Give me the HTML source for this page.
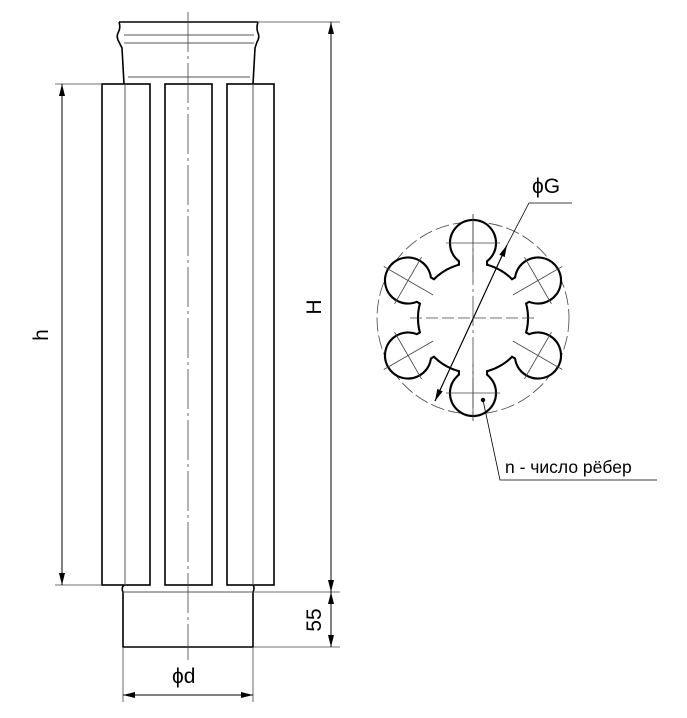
<!DOCTYPE html>
<html><head><meta charset="utf-8"><style>body{margin:0;background:#fff}svg{display:block}text{font-family:"Liberation Sans",sans-serif;fill:#000}</style></head><body>
<svg width="687" height="718" viewBox="0 0 687 718" xmlns="http://www.w3.org/2000/svg">
<defs>
<marker id="a" viewBox="0 0 12 6" refX="12" refY="3" markerWidth="12" markerHeight="6" markerUnits="userSpaceOnUse" orient="auto"><path d="M0,0 L12,3 L0,6z" fill="#000"/></marker>
<g id="lobe"><circle cx="473" cy="243" r="22"/><rect x="460" y="250" width="26" height="30"/></g>
</defs>
<g fill="none" stroke="#000">
<path d="M119,22 L258,22" stroke-width="1.6"/>
<path d="M119,22 Q121,28 118,33 Q116,37 119,42 L122,48 L124,84" stroke-width="1.6"/>
<path d="M258,22 Q256,28 258,33 Q260,37 257,42 L255,48 L253,84" stroke-width="1.6"/>
<path d="M124,35 L254,35 M124,43 L254,43 M128,77 L250,77" stroke-width="1" stroke="#555"/>
<rect x="102" y="84" width="48" height="501" stroke-width="1.6"/>
<rect x="165" y="84" width="47" height="501" stroke-width="1.6"/>
<rect x="227" y="84" width="47" height="501" stroke-width="1.6"/>
<path d="M125,84 V585 M253,84 V585" stroke-width="1" stroke="#555"/>
<path d="M124,585 Q121,588 123,592 L123,647 L253,647 L253,592 Q255,588 253,585" stroke-width="1.6"/>
<path d="M123,592 H253" stroke-width="1" stroke="#555"/>
<path d="M188,12 V660" stroke-width="0.8" stroke="#444" stroke-dasharray="40,4,3,4"/>
<g stroke-width="0.8" stroke="#444">
<path d="M55,84 H102 M55,585 H102"/>
<path d="M258,22 H340 M253,592 H340 M253,647 H340 M123,647 V702 M253,647 V702"/>
</g>
<g stroke-width="1">
<path d="M62,585 V84" marker-end="url(#a)"/><path d="M62,84 V585" marker-end="url(#a)"/>
<path d="M331,592 V22" marker-end="url(#a)"/><path d="M331,22 V592" marker-end="url(#a)"/>
<path d="M331,647 V592" marker-end="url(#a)"/><path d="M331,592 V647" marker-end="url(#a)"/>
<path d="M253,695 H123" marker-end="url(#a)"/><path d="M123,695 H253" marker-end="url(#a)"/>
</g>
<circle cx="473" cy="318" r="96" stroke-width="0.8" stroke="#444" stroke-dasharray="14,4"/>
<g stroke="#000" stroke-width="4.2" fill="#000">
<circle cx="473" cy="318" r="54"/>
<use href="#lobe"/><use href="#lobe" transform="rotate(60 473 318)"/><use href="#lobe" transform="rotate(120 473 318)"/>
<use href="#lobe" transform="rotate(180 473 318)"/><use href="#lobe" transform="rotate(240 473 318)"/><use href="#lobe" transform="rotate(300 473 318)"/>
</g>
<g fill="#fff" stroke="none">
<circle cx="473" cy="318" r="54"/>
<use href="#lobe"/><use href="#lobe" transform="rotate(60 473 318)"/><use href="#lobe" transform="rotate(120 473 318)"/>
<use href="#lobe" transform="rotate(180 473 318)"/><use href="#lobe" transform="rotate(240 473 318)"/><use href="#lobe" transform="rotate(300 473 318)"/>
</g>
<g stroke-width="0.8" stroke="#444">
<path d="M410,318 H537" stroke-dasharray="12,4"/>
<path d="M473,214 V420" stroke-dasharray="30,4,3,4"/>
<g id="c"><path d="M473,215 V272 M446,243 H500"/></g>
<use href="#c" transform="rotate(60 473 318)"/><use href="#c" transform="rotate(120 473 318)"/>
<use href="#c" transform="rotate(180 473 318)"/><use href="#c" transform="rotate(240 473 318)"/>
<use href="#c" transform="rotate(300 473 318)"/>
</g>
<path d="M435,401 L507,245" stroke-width="1" marker-end="url(#a)"/>
<path d="M507,245 L435,401" stroke-width="1" marker-end="url(#a)"/>
<path d="M507,245 L529,203 H572" stroke-width="0.8"/>
<path d="M483,400 L500,480 H657" stroke-width="0.8"/>
</g>
<circle cx="483" cy="400" r="2.2" fill="#000"/>
<text x="532" y="193" font-size="21">ϕG</text>
<text x="505" y="473" font-size="17.5">n - число рёбер</text>
<text x="172" y="683" font-size="21">ϕd</text>
<text transform="translate(48,335) rotate(-90)" font-size="21" text-anchor="middle">h</text>
<text transform="translate(321,307) rotate(-90)" font-size="21" text-anchor="middle">H</text>
<text transform="translate(321,620) rotate(-90)" font-size="21" text-anchor="middle">55</text>
</svg>
</body></html>
